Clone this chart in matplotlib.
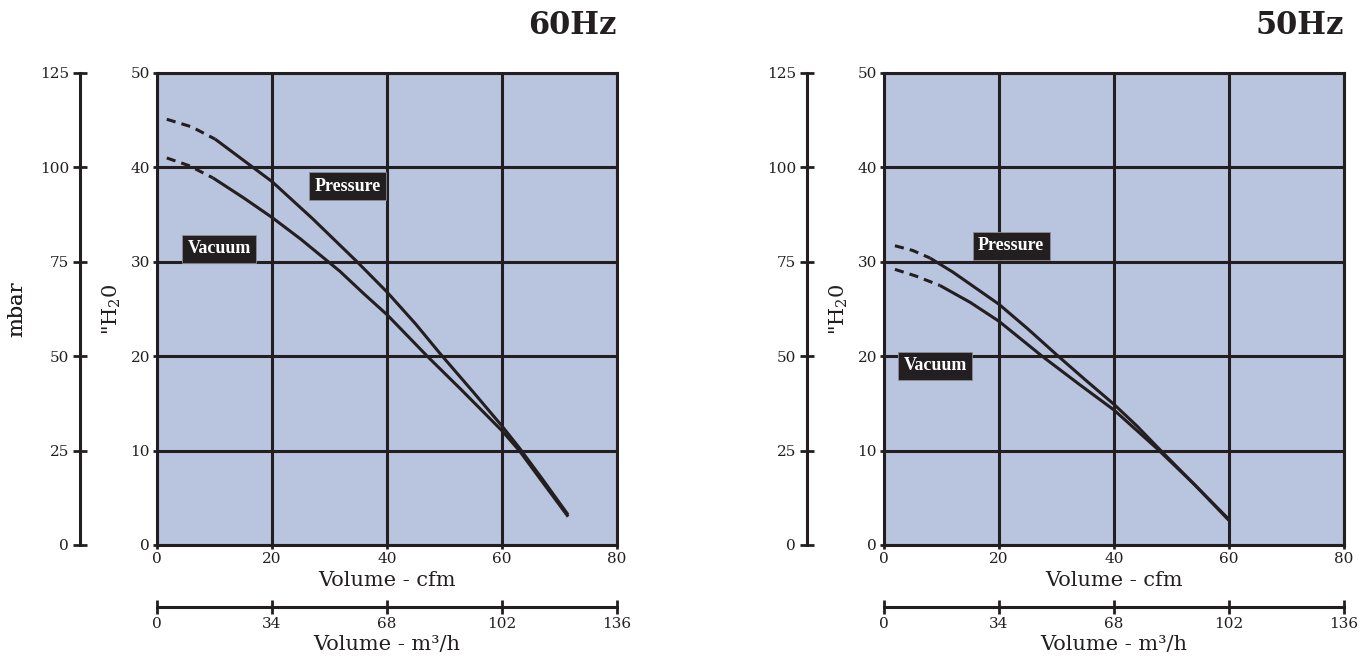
import matplotlib
matplotlib.use("Agg")
import matplotlib.pyplot as plt

# blower curves: volume in cfm, pressure/vacuum in inches of water
p60_cfm = [1.7, 6, 10.1, 16.7, 20, 27, 34.8, 40, 45, 49.2, 55, 60, 63, 67, 71.5]
p60_h2o = [45.1, 44.3, 43.0, 40.0, 38.5, 34.6, 30.0, 26.8, 23.4, 20.3, 16.2, 12.6, 10.3, 7.0, 3.2]
v60_cfm = [1.7, 5.5, 9.7, 15, 20, 25, 31.8, 36, 40, 47, 53, 60, 63, 67, 71.5]
v60_h2o = [41.0, 40.2, 38.9, 36.8, 34.7, 32.4, 29.0, 26.6, 24.4, 20.0, 16.4, 12.1, 10.0, 6.7, 3.0]

p50_cfm = [1.9, 5, 8, 12, 20, 25, 30.3, 35, 40, 44, 47.5, 54, 60]
p50_h2o = [31.7, 31.2, 30.4, 28.9, 25.5, 22.9, 20.0, 17.5, 14.9, 12.6, 10.4, 6.4, 2.7]
v50_cfm = [1.9, 5.5, 9.7, 15, 20, 27.5, 34, 40, 47.5, 54, 60]
v50_h2o = [29.2, 28.5, 27.5, 25.7, 23.7, 20.0, 17.0, 14.3, 10.2, 6.4, 2.6]

# the curves are dashed up to these volumes
p60_dash_end = 10.1
v60_dash_end = 9.7
p50_dash_end = 8
v50_dash_end = 9.7

titles = ["60Hz", "50Hz"]
cfm_ticks = [0, 20, 40, 60, 80]
h2o_ticks = [0, 10, 20, 30, 40, 50]
m3h_ticks = [0, 34, 68, 102, 136]
mbar_ticks = [0, 25, 50, 75, 100, 125]

# label box positions (cfm, "H2O)
label_pos = [
    {"Pressure": (33.1, 38.0), "Vacuum": (10.8, 31.4)},
    {"Pressure": (22.1, 31.7), "Vacuum": (8.9, 19.0)},
]

ink = "#231f20"
bg = "#b9c5df"
plt.rcParams["font.family"] = "DejaVu Serif"
plt.rcParams["mathtext.fontset"] = "dejavuserif"

fig = plt.figure(figsize=(13.66, 6.6), dpi=100)

W, H = 1366, 660
lefts = [157, 884]
top, bottom, width = 73, 545, 460


def draw_curve(ax, xs, ys, dash_end):
    dash_x = [x for x in xs if x <= dash_end]
    dash_y = [y for x, y in zip(xs, ys) if x <= dash_end]
    solid_x = [x for x in xs if x >= dash_end]
    solid_y = [y for x, y in zip(xs, ys) if x >= dash_end]
    ax.plot(dash_x, dash_y, color=ink, lw=2.2, linestyle=(0, (3, 2)), zorder=3)
    ax.plot(solid_x, solid_y, color=ink, lw=2.2, zorder=3, solid_capstyle="butt",
            solid_joinstyle="round")


curves = [
    [(p60_cfm, p60_h2o, p60_dash_end), (v60_cfm, v60_h2o, v60_dash_end)],
    [(p50_cfm, p50_h2o, p50_dash_end), (v50_cfm, v50_h2o, v50_dash_end)],
]

for i in range(2):
    ax = fig.add_axes([lefts[i] / W, 1 - bottom / H, width / W, (bottom - top) / H])
    ax.set_facecolor(bg)
    ax.set_xlim(0, 80)
    ax.set_ylim(0, 50)
    ax.set_xticks(cfm_ticks)
    ax.set_yticks(h2o_ticks)
    ax.grid(True, color=ink, lw=2.2, zorder=1)
    ax.set_axisbelow(True)
    for s in ax.spines.values():
        s.set_color(ink)
        s.set_linewidth(2.2)
    ax.tick_params(colors=ink, labelsize=11, length=3, width=2, pad=2)

    for xs, ys, d in curves[i]:
        draw_curve(ax, xs, ys, d)

    for name, (x, y) in label_pos[i].items():
        ax.text(x, y, name, color="white", fontsize=13, fontweight="bold",
                family="Liberation Serif", ha="center", va="center", zorder=4,
                bbox=dict(facecolor=ink, edgecolor="#8c8c94", lw=0.6,
                          boxstyle="square,pad=0.3"))

    # second scales: mbar on the left, m3/h underneath
    sec_y = ax.secondary_yaxis(-77 / width, functions=(lambda y: y * 2.5, lambda y: y / 2.5))
    sec_y.set_yticks(mbar_ticks)
    sec_y.spines["left"].set_color(ink)
    sec_y.spines["left"].set_linewidth(2.2)
    sec_y.tick_params(colors=ink, labelsize=11, direction="inout", length=10, width=2, pad=3)

    sec_x = ax.secondary_xaxis(-62 / (bottom - top), functions=(lambda x: x * 1.7, lambda x: x / 1.7))
    sec_x.set_xticks(m3h_ticks)
    sec_x.spines["bottom"].set_color(ink)
    sec_x.spines["bottom"].set_linewidth(2.2)
    sec_x.tick_params(colors=ink, labelsize=11, direction="inout", length=10, width=2, pad=2)

    ax.text(0.5, (bottom - 580) / (bottom - top), "Volume - cfm", transform=ax.transAxes,
            ha="center", va="center", fontsize=15, color=ink)
    ax.text(0.5, (bottom - 645) / (bottom - top), "Volume - m\u00b3/h", transform=ax.transAxes,
            ha="center", va="center", fontsize=15, color=ink)
    ax.text((17 - lefts[i]) / width, 0.5, "mbar", transform=ax.transAxes, rotation=90,
            ha="center", va="center", fontsize=15, color=ink)
    ax.text(-45 / width, 0.5, '"H$_2$0', transform=ax.transAxes, rotation=90,
            ha="center", va="center", fontsize=15, color=ink)
    ax.text(1.0, (bottom - 25) / (bottom - top), titles[i], transform=ax.transAxes,
            ha="right", va="center", fontsize=22, fontweight="bold", color=ink)

fig.savefig("out.png", dpi=100)
